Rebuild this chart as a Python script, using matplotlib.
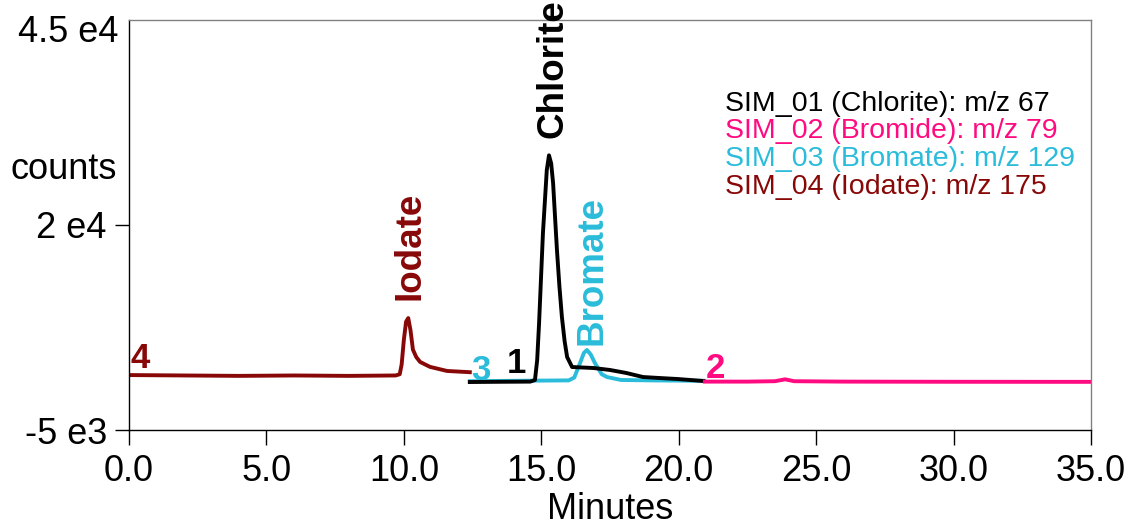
import matplotlib
matplotlib.use("Agg")
import matplotlib.pyplot as plt
from matplotlib.transforms import ScaledTranslation

plt.rcParams['font.family'] = ['Liberation Sans', 'DejaVu Sans']

# ---- data (minutes, counts) ----
iodate_t = [0.0, 2.0, 4.0, 6.0, 8.0, 9.7, 9.85, 9.92, 10.0, 10.08, 10.16, 10.24, 10.33, 10.45, 10.59, 10.95, 11.57, 12.4]
iodate_c = [1700, 1650, 1600, 1650, 1600, 1650, 1800, 3000, 6000, 8200, 8650, 7200, 4800, 3900, 3300, 2700, 2200, 2050]

chlorite_t = [12.4, 13.5, 14.6, 14.77, 14.85, 14.92, 15.06, 15.2, 15.28, 15.36, 15.43, 15.5, 15.57, 15.66, 15.75, 15.85, 15.94, 16.12, 16.9, 17.5, 18.1, 18.7, 19.3, 19.95, 20.9]
chlorite_c = [850, 880, 900, 1100, 3500, 8050, 19000, 26700, 28500, 27500, 25100, 21000, 16950, 12500, 8780, 5800, 3900, 2680, 2560, 2320, 1950, 1460, 1340, 1220, 975]

bromate_t = [12.4, 14.0, 16.0, 16.2, 16.41, 16.55, 16.66, 16.8, 16.95, 17.2, 17.39, 17.9, 19.0, 20.9]
bromate_c = [950, 1000, 1050, 1400, 3170, 4400, 4760, 4200, 3170, 1800, 1460, 1100, 1050, 1000]

bromide_t = [20.95, 22.5, 23.5, 23.87, 24.2, 26.0, 30.0, 35.0]
bromide_c = [900, 900, 950, 1180, 950, 900, 880, 870]

xticks = [0, 5, 10, 15, 20, 25, 30, 35]
xtick_labels = ["0.0", "5.0", "10.0", "15.0", "20.0", "25.0", "30.0", "35.0"]
yticks = [-5000, 20000]
ytick_labels = ["-5 e3", "2 e4"]
ytop_label = "4.5 e4"

legend_lines = ["SIM_01 (Chlorite): m/z 67", "SIM_02 (Bromide): m/z 79",
                "SIM_03 (Bromate): m/z 129", "SIM_04 (Iodate): m/z 175"]

C_CHLORITE = "#000000"
C_BROMIDE = "#FF0A80"
C_BROMATE = "#2ABCDA"
C_IODATE = "#880808"
legend_colors = [C_CHLORITE, C_BROMIDE, C_BROMATE, C_IODATE]

# ---- figure ----
fig = plt.figure(figsize=(11.24, 5.27), dpi=100)
ax = fig.add_axes([129/1124, 97/527, 962/1124, 410/527])
ax.set_xlim(0, 35)
ax.set_ylim(-5000, 45000)

lw = 2.8
ax.plot(iodate_t, iodate_c, color=C_IODATE, lw=lw, solid_joinstyle='round')
ax.plot(bromate_t, bromate_c, color=C_BROMATE, lw=lw, solid_joinstyle='round')
ax.plot(chlorite_t, chlorite_c, color=C_CHLORITE, lw=lw, solid_joinstyle='round')
ax.plot(bromide_t, bromide_c, color=C_BROMIDE, lw=lw, solid_joinstyle='round')

# spines
for s in ['top', 'right']:
    ax.spines[s].set_color('#808080')
for s in ['left', 'bottom']:
    ax.spines[s].set_color('black')
for s in ax.spines.values():
    s.set_linewidth(1.0)

ax.set_xticks(xticks)
ax.set_xticklabels(xtick_labels)
ax.set_yticks(yticks)
ax.set_yticklabels(ytick_labels)
ax.tick_params(axis='x', direction='out', length=11, width=1, labelsize=26, pad=6, colors='black')
ax.tick_params(axis='y', direction='out', length=10, width=1, labelsize=26, pad=6, colors='black')
for lab in ax.get_yticklabels():
    lab.set_transform(lab.get_transform() + ScaledTranslation(0, -4/100, fig.dpi_scale_trans))
    lab.set_va('center')

fig.text(118/1124, 1 - 32/527, ytop_label, ha='right', va='center', fontsize=26)
fig.text(10/1124, 1 - 170/527, "counts", ha='left', va='center', fontsize=26)
fig.text(610/1124, 0.0, "Minutes", ha='center', va='bottom', fontsize=26)

# peak labels
bold = dict(fontweight='bold', fontsize=26.5, rotation=90, ha='center', va='bottom', clip_on=False)
ax.text(15.42, 30600, "Chlorite", color=C_CHLORITE, **bold)
ax.text(10.22, 10850, "Iodate", color=C_IODATE, **bold)
ax.text(16.85, 5400, "Bromate", color=C_BROMATE, **bold)

# trace number labels
num = dict(fontweight='bold', fontsize=25, ha='left', va='baseline')
ax.text(0.07, 2560, "4", color=C_IODATE, **num)
ax.text(12.44, 1100, "3", color=C_BROMATE, **num)
ax.text(13.75, 1950, "1", color=C_CHLORITE, **num)
ax.text(20.99, 1340, "2", color=C_BROMIDE, **num)

# legend text block
for i, (txt, col) in enumerate(zip(legend_lines, legend_colors)):
    fig.text(725/1124, 1 - (104 + 27.5*i)/527, txt, color=col, fontsize=20.5,
             ha='left', va='center')

fig.savefig("out.png", dpi=100)
